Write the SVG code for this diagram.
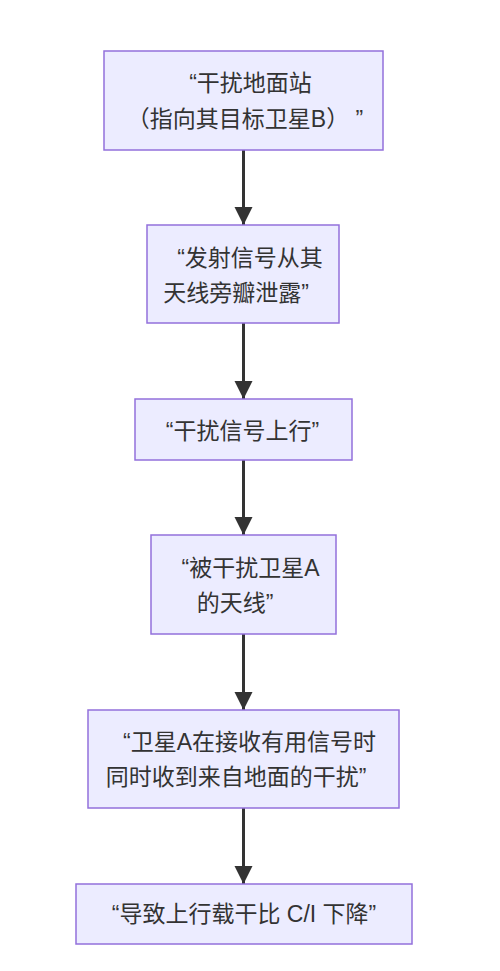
<svg xmlns="http://www.w3.org/2000/svg" width="500" height="971" viewBox="0 0 500 971">
<style>
.box{fill:#ECECFF;stroke:#9370DB;stroke-width:1.5}
.t{font-family:"Liberation Sans","Noto Sans CJK SC",sans-serif;font-size:23px;fill:#333;text-anchor:middle}
.edge{stroke:#333;stroke-width:3;fill:none}
</style>
<defs>
<marker id="arrow" markerUnits="userSpaceOnUse" markerWidth="20" markerHeight="20" viewBox="0 0 20 20" refX="18" refY="10" orient="auto">
<path d="M0,1 L18,10 L0,19 z" fill="#333"/>
</marker>
</defs>
<rect width="500" height="971" fill="#fff"/>
<g id="edges">
<line class="edge" x1="243.5" y1="150" x2="243.5" y2="225" marker-end="url(#arrow)"/>
<line class="edge" x1="243.5" y1="323" x2="243.5" y2="399" marker-end="url(#arrow)"/>
<line class="edge" x1="243.5" y1="460" x2="243.5" y2="535" marker-end="url(#arrow)"/>
<line class="edge" x1="243.5" y1="634" x2="243.5" y2="710" marker-end="url(#arrow)"/>
<line class="edge" x1="243.5" y1="808" x2="243.5" y2="884" marker-end="url(#arrow)"/>
</g>
<g id="n1">
<rect class="box" x="104" y="51" width="279" height="99"/>
<text class="t" x="250.5" y="91">“干扰地面站</text>
<text class="t" x="245" y="127">（指向其目标卫星B） ”</text>
</g>
<g id="n2">
<rect class="box" x="147" y="225" width="192" height="98"/>
<text class="t" x="250" y="266">“发射信号从其</text>
<text class="t" x="236" y="301">天线旁瓣泄露”</text>
</g>
<g id="n3">
<rect class="box" x="135" y="399" width="217" height="61"/>
<text class="t" x="242.5" y="439">“干扰信号上行”</text>
</g>
<g id="n4">
<rect class="box" x="151" y="535" width="185" height="99"/>
<text class="t" x="250.5" y="576">“被干扰卫星A</text>
<text class="t" x="235" y="611">的天线”</text>
</g>
<g id="n5">
<rect class="box" x="88" y="710" width="311" height="98"/>
<text class="t" x="249.5" y="750">“卫星A在接收有用信号时</text>
<text class="t" x="236" y="785">同时收到来自地面的干扰”</text>
</g>
<g id="n6">
<rect class="box" x="76" y="884" width="336" height="60"/>
<text class="t" x="244" y="922">“导致上行载干比 C/I 下降”</text>
</g>
</svg>
